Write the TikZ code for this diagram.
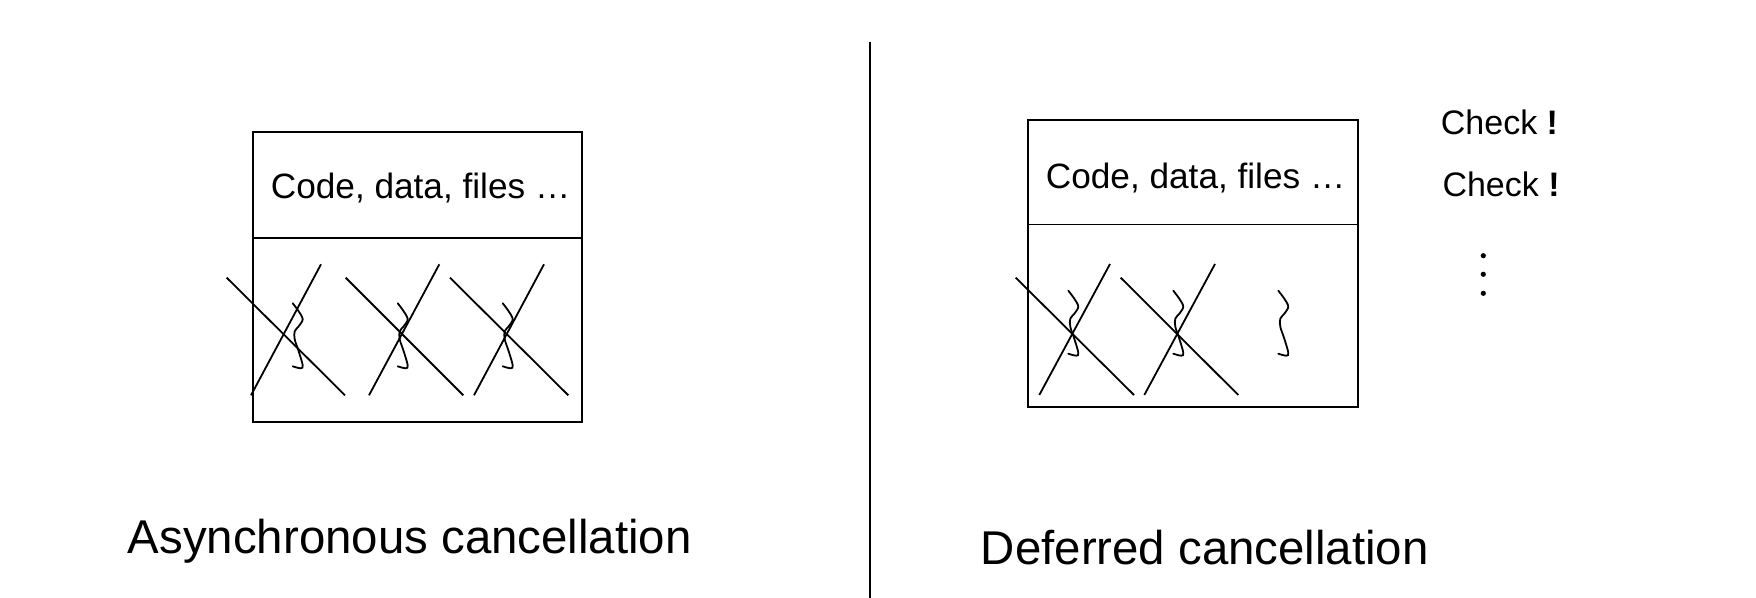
\documentclass[tikz,border=0pt]{standalone}
\usepackage{fontspec}
\setmainfont{Liberation Sans}
\begin{document}
\begin{tikzpicture}[x=0.5pt,y=-0.5pt, line width=0.9pt,
  squig/.pic={\draw[line width=0.9pt, line cap=round] plot[smooth, tension=0.55] coordinates {(0,0) (6,8) (10,16) (6,23) (2,28) (2,36) (6,48) (10,62) (8,65) (0,63)};},
  boxtext/.style={anchor=base west, inner sep=0pt, font=\fontsize{17.6pt}{20pt}\selectfont},
  checktext/.style={anchor=base west, inner sep=0pt, font=\fontsize{17pt}{20pt}\selectfont},
  titletext/.style={anchor=base west, inner sep=0pt, font=\fontsize{23.7pt}{28pt}\selectfont},
  dotmark/.style={circle, fill=black, inner sep=0pt, minimum size=2.6pt}]
\useasboundingbox (0,0) rectangle (1756,598);

% divider line
\coordinate (vtop) at (870,42);
\coordinate (vbot) at (870,598);
\draw (vtop) -- (vbot);

% ---------- left box ----------
\coordinate (la) at (252.7,132.3);
\coordinate (lb) at (581.7,421.7);
\coordinate (lml) at (252.7,237.7);
\coordinate (lmr) at (581.7,237.7);
\draw (la) rectangle (lb);
\draw (lml) -- (lmr);
\node[boxtext] (ltext) at (270,198.3) {Code, data, files …};

% crosses
\draw (226.7,277.7) -- (345,395.3);
\draw (321,264.3) -- (251,395.3);
\draw (345.7,277.7) -- (463.3,395.3);
\draw (439.3,264.3) -- (369,395.3);
\draw (450,277.7) -- (568.3,395.3);
\draw (544,264.3) -- (474,395.3);
\pic at (292.7,303.3) {squig};
\pic at (397.7,303.3) {squig};
\pic at (502.7,303.3) {squig};

\node[titletext] (ltitle) at (127,553) {Asynchronous cancellation};

% ---------- right box ----------
\coordinate (ra) at (1028.3,120);
\coordinate (rb) at (1357.7,407.3);
\coordinate (rml) at (1028.3,224.3);
\coordinate (rmr) at (1357.7,224.3);
\draw (ra) rectangle (rb);
\draw[line width=0.6pt] (rml) -- (rmr);
\node[boxtext] (rtext) at (1045,188.3) {Code, data, files …};

\draw (1015.7,277.7) -- (1134,395);
\draw (1110,264) -- (1039.3,395);
\draw (1120.7,277.7) -- (1238.3,395);
\draw (1215,264) -- (1144.3,395);
\pic at (1068.3,290.7) {squig};
\pic at (1173.3,290.7) {squig};
\pic at (1278.3,290.7) {squig};

\node[checktext] (check1) at (1440,134.3) {Check {\bfseries !}};
\node[checktext] (check2) at (1441.6,196.7) {Check {\bfseries !}};
\node[dotmark] (d1) at (1483.3,255.7) {};
\node[dotmark] (d2) at (1483.3,274.3) {};
\node[dotmark] (d3) at (1483.3,293.3) {};

\node[titletext] (rtitle) at (980,564) {Deferred cancellation};
\end{tikzpicture}
\end{document}
